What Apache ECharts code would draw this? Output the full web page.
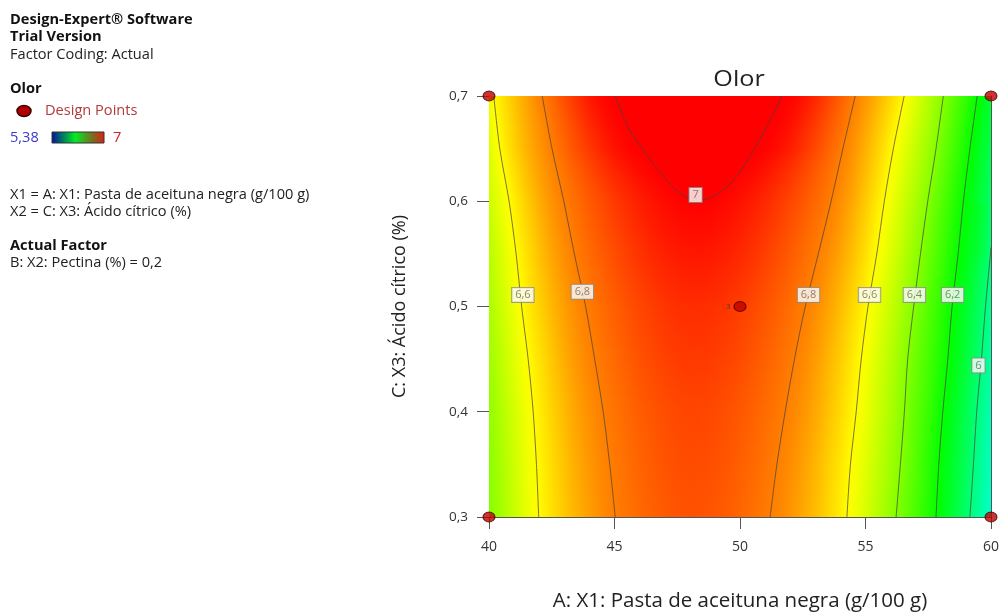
<!DOCTYPE html>
<html><head><meta charset="utf-8">
<script src="https://cdn.jsdelivr.net/npm/echarts@6/dist/echarts.min.js"></script>
<style>html,body{margin:0;padding:0;background:#fff;} #c{width:1001px;height:613px;}</style>
</head><body><div id="c"></div>
<script>
// ---- data ----
const chartTitle = 'Olor';
const scaleMin = 5.38, scaleMax = 7;
const scaleMinLabel = '5,38', scaleMaxLabel = '7';
// rows at which contour positions were read
const yLevels = [0.3, 0.35, 0.4, 0.45, 0.5, 0.55, 0.6, 0.65, 0.7];
// response at left edge (A = 40) and right edge (A = 60)
const edgeLeftValue  = [6.40, 6.41, 6.42, 6.44, 6.46, 6.48, 6.51, 6.54, 6.58];
const edgeRightValue = [5.865, 5.885, 5.905, 5.93, 5.96, 5.99, 6.03, 6.065, 6.11];
// x position of each contour at each row
const line66Left  = [41.98, 41.89, 41.76, 41.56, 41.30, 41.08, 40.80, 40.43, 40.19];
const line68Left  = [45.03, 44.81, 44.55, 44.21, 43.85, 43.40, 42.98, 42.51, 42.12];
const ridgeLeft   = [48.12, 48.14, 48.17, 48.19, 48.22, 48.26, 48.30, 46.10, 45.03];
const ridgeRight  = [48.12, 48.14, 48.17, 48.19, 48.22, 48.26, 48.30, 50.58, 51.67];
const ridgeValue  = [6.87, 6.88, 6.89, 6.91, 6.93, 6.965, 7.0, 7.0, 7.0];
const line68Right = [51.20, 51.47, 51.80, 52.17, 52.60, 53.12, 53.63, 54.10, 54.59];
const line66Right = [54.26, 54.40, 54.63, 54.83, 55.10, 55.45, 55.75, 56.11, 56.54];
const line64      = [56.22, 56.39, 56.55, 56.68, 56.92, 57.19, 57.48, 57.81, 58.10];
const line62      = [57.81, 57.92, 58.08, 58.28, 58.45, 58.69, 58.90, 59.16, 59.45];
const line60      = [59.16, 59.30, 59.43, 59.62, 59.78, 59.98, null, null, null];
const line60Exit  = [60, 0.556];
const line7Cup = [[45.03,0.70],[45.55,0.67],[46.10,0.65],[46.90,0.625],[47.60,0.608],[48.30,0.601],
                  [49.10,0.607],[49.80,0.622],[50.58,0.65],[51.10,0.672],[51.67,0.70]];
// contour labels [x, y, text]
const contourLabels = [[41.35,0.511,'6,6'],[43.72,0.514,'6,8'],[48.23,0.606,'7'],[52.73,0.511,'6,8'],
                       [55.16,0.511,'6,6'],[56.95,0.511,'6,4'],[58.47,0.511,'6,2'],[59.5,0.444,'6']];
// design points [A, C, replicate label]
const designPoints = [[40,0.3,''],[40,0.7,''],[60,0.3,''],[60,0.7,''],[50,0.5,'3']];

// ---- colour scale (blue -> green -> red, hue based) ----
function hsvColor(h){
  const x = 1 - Math.abs((h/60)%2 - 1);
  let r,g,b;
  if (h < 60){r=1;g=x;b=0;} else if (h < 120){r=x;g=1;b=0;}
  else if (h < 180){r=0;g=1;b=x;} else {r=0;g=x;b=1;}
  return 'rgb(' + Math.round(r*255) + ',' + Math.round(g*255) + ',' + Math.round(b*255) + ')';
}
function valueColor(v){
  const t = Math.min(1, Math.max(0, (v - scaleMin)/(scaleMax - scaleMin)));
  return hsvColor(Math.min(239.9, 240*(1-t)));
}
function knotsAt(j){
  return [
    [40, edgeLeftValue[j]],
    [line66Left[j], 6.6],
    [line68Left[j], 6.8],
    [ridgeLeft[j], ridgeValue[j]],
    [ridgeRight[j], ridgeValue[j]],
    [line68Right[j], 6.8],
    [line66Right[j], 6.6],
    [line64[j], 6.4],
    [line62[j], 6.2],
    line60[j] != null ? [line60[j], 6.0] : [60, edgeRightValue[j]],
    [60, edgeRightValue[j]]
  ];
}
// gradient stops along one pixel row, shading smoothly (monotone cubic) between the knots
function rowStops(knots, toOffset){
  const xs = [], vs = [];
  knots.forEach(k => { if (xs.length && k[0] - xs[xs.length-1] < 1e-4) return; xs.push(k[0]); vs.push(k[1]); });
  const n = xs.length, h = [], d = [];
  for (let i = 0; i < n-1; i++){ h.push(xs[i+1]-xs[i]); d.push((vs[i+1]-vs[i])/h[i]); }
  const m = new Array(n);
  m[0] = d[0]; m[n-1] = d[n-2];
  for (let i = 1; i < n-1; i++){
    if (d[i-1]*d[i] <= 0) m[i] = 0;
    else { const w1 = 2*h[i]+h[i-1], w2 = h[i]+2*h[i-1]; m[i] = (w1+w2)/(w1/d[i-1] + w2/d[i]); }
  }
  const stops = [];
  const S = 8;
  for (let i = 0; i < n-1; i++){
    for (let s = (i === 0 ? 0 : 1); s <= S; s++){
      const t = s/S, t2 = t*t, t3 = t2*t;
      const v = (2*t3-3*t2+1)*vs[i] + (t3-2*t2+t)*h[i]*m[i] + (-2*t3+3*t2)*vs[i+1] + (t3-t2)*h[i]*m[i+1];
      const off = Math.min(1, Math.max(0, toOffset(xs[i] + t*h[i])));
      if (stops.length && off < stops[stops.length-1].offset) continue;
      stops.push({offset: off, color: valueColor(v)});
    }
  }
  return stops;
}
const bandRows = yLevels.slice(0, -1).map((y, j) => [j]);

function renderBand(params, api){
  const j = api.value(0);
  const a = knotsAt(j), b = knotsAt(j+1);
  const pyBot = api.coord([40, yLevels[j]])[1], pyTop = api.coord([40, yLevels[j+1]])[1];
  const pxL = api.coord([40, yLevels[j]])[0], pxR = api.coord([60, yLevels[j]])[0];
  const toOffset = x => (api.coord([x, yLevels[j]])[0] - pxL) / (pxR - pxL);
  const top = Math.floor(pyTop), bot = Math.ceil(pyBot);
  const children = [];
  for (let y0 = top; y0 < bot; y0 += 2){
    const yc = Math.min(y0 + 1, bot);
    const f = Math.min(1, Math.max(0, (pyBot - yc)/(pyBot - pyTop)));
    const knots = a.map((ka, i) => [ka[0] + (b[i][0]-ka[0])*f, ka[1] + (b[i][1]-ka[1])*f]);
    const grad = new echarts.graphic.LinearGradient(pxL, 0, pxR, 0, rowStops(knots, toOffset), true);
    children.push({type:'rect', shape:{x:pxL-1, y:y0, width:pxR-pxL+2, height:3}, style:{fill:grad}});
  }
  return {type:'group', children};
}

const FONT = '"Open Sans", "Noto Sans", sans-serif';
const lineStyle = {color:'rgba(70,66,60,0.72)', width:1};
function contourSeries(xs, extra){
  const pts = [];
  xs.forEach((x,i)=>{ if (x != null) pts.push([x, yLevels[i]]); });
  if (extra) pts.push(extra);
  return {type:'line', data:pts, smooth:0.3, symbol:'none', lineStyle:lineStyle, silent:true, z:3};
}
const fmt = v => (Math.round(v*10)/10).toString().replace('.', ',');

const chart = echarts.init(document.getElementById('c'));
const leftText = [
  ['Design-Expert® Software', 20, true, '#111'],
  ['Trial Version', 37, true, '#111'],
  ['Factor Coding: Actual', 55, false, '#222'],
  ['Olor', 89, true, '#111'],
  ['X1 = A: X1: Pasta de aceituna negra (g/100 g)', 195, false, '#222'],
  ['X2 = C: X3: Ácido cítrico (%)', 212, false, '#222'],
  ['Actual Factor', 246, true, '#111'],
  ['B: X2: Pectina (%) = 0,2', 263, false, '#222']
];
const PF = '14.6px ' + FONT;
const graphics = leftText.map(t => ({type:'text', x:10, y:t[1],
  style:{text:t[0], fill:t[3], font:(t[2]?'bold ':'') + PF, verticalAlign:'middle', align:'left'}}));
graphics.push({type:'ellipse', shape:{cx:24, cy:111, rx:7, ry:5.5}, style:{fill:'#b00000', stroke:'#3a0000', lineWidth:1.5}});
graphics.push({type:'text', x:45, y:111, style:{text:'Design Points', fill:'#b33a3a', font:PF, verticalAlign:'middle'}});
graphics.push({type:'text', x:10, y:138, style:{text:scaleMinLabel, fill:'#3838c8', font:PF, verticalAlign:'middle'}});
graphics.push({type:'rect', shape:{x:52, y:132, width:52, height:11}, style:{
  fill:new echarts.graphic.LinearGradient(0,0,1,0,[{offset:0,color:'#0010a0'},{offset:0.45,color:'#00ee20'},{offset:0.78,color:'#7a6a20'},{offset:1,color:'#e02010'}]),
  stroke:'#333', lineWidth:1}});
graphics.push({type:'text', x:113, y:138, style:{text:scaleMaxLabel, fill:'#d02020', font:PF, verticalAlign:'middle'}});
graphics.push({type:'text', x:739, y:80, scaleX:1.2, style:{text:chartTitle, fill:'#222', font:'21px '+FONT, align:'center', verticalAlign:'middle'}});

chart.setOption({
  animation:false,
  backgroundColor:'#fff',
  textStyle:{fontFamily:FONT},
  grid:{left:489, top:96, width:502, height:421, show:false, containLabel:false, outerBoundsMode:'none'},
  graphic: graphics,
  xAxis:[{type:'value', min:40, max:60, interval:5, position:'bottom',
    name:'A: X1: Pasta de aceituna negra (g/100 g)', nameLocation:'middle', nameGap:74,
    nameTextStyle:{fontSize:20.5, color:'#222', fontFamily:FONT},
    axisLine:{show:true, lineStyle:{color:'#555', width:1}},
    axisTick:{show:true, length:12, lineStyle:{color:'#555'}},
    axisLabel:{fontSize:14, color:'#333', margin:23, fontFamily:FONT, formatter:v=>String(v)},
    splitLine:{show:false}},
   {type:'value', min:40, max:60, position:'top', axisLine:{show:true, onZero:false, lineStyle:{color:'#555'}},
    axisTick:{show:false}, axisLabel:{show:false}, splitLine:{show:false}}],
  yAxis:[{type:'value', min:0.3, max:0.7, interval:0.1,
    name:'C: X3: Ácido cítrico (%)', nameLocation:'middle', nameGap:80,
    nameTextStyle:{fontSize:18, color:'#222', fontFamily:FONT},
    axisLine:{show:true, lineStyle:{color:'#555', width:1}},
    axisTick:{show:true, length:12, lineStyle:{color:'#555'}},
    axisLabel:{fontSize:13.5, color:'#333', margin:21, fontFamily:FONT, formatter:v=>fmt(v)},
    splitLine:{show:false}},
   {type:'value', min:0.3, max:0.7, position:'right', axisLine:{show:true, onZero:false, lineStyle:{color:'#555'}},
    axisTick:{show:false}, axisLabel:{show:false}, splitLine:{show:false}}],
  series:[
    {type:'custom', renderItem:renderBand, data:bandRows, z:1, silent:true, clip:true,
     encode:{x:-1, y:-1}, dimensions:['row']},
    contourSeries(line66Left), contourSeries(line68Left), contourSeries(line68Right),
    contourSeries(line66Right), contourSeries(line64), contourSeries(line62),
    contourSeries(line60, line60Exit),
    {type:'line', data:line7Cup, smooth:0.4, symbol:'none', lineStyle:lineStyle, z:3, silent:true},
    {type:'scatter', data:contourLabels.map(d=>({value:[d[0],d[1]], name:d[2]})), symbolSize:0, z:4, silent:true,
     label:{show:true, position:'inside', formatter:p=>p.name, backgroundColor:'#fff', borderColor:'#8a8a8a', borderWidth:1,
            padding:[2,3,1,3], color:'#666', fontSize:11, fontFamily:FONT}},
    {type:'scatter', data:designPoints.map(d=>({value:[d[0],d[1]], name:d[2]})), symbol:'circle', symbolSize:[12,10],
     clip:false, z:5, silent:true,
     itemStyle:{color:'#c00000', borderColor:'#3a0000', borderWidth:1},
     label:{show:true, position:'left', distance:3, formatter:p=>p.name, color:'#333', fontSize:8, fontFamily:FONT}}
  ]
});
</script></body></html>
